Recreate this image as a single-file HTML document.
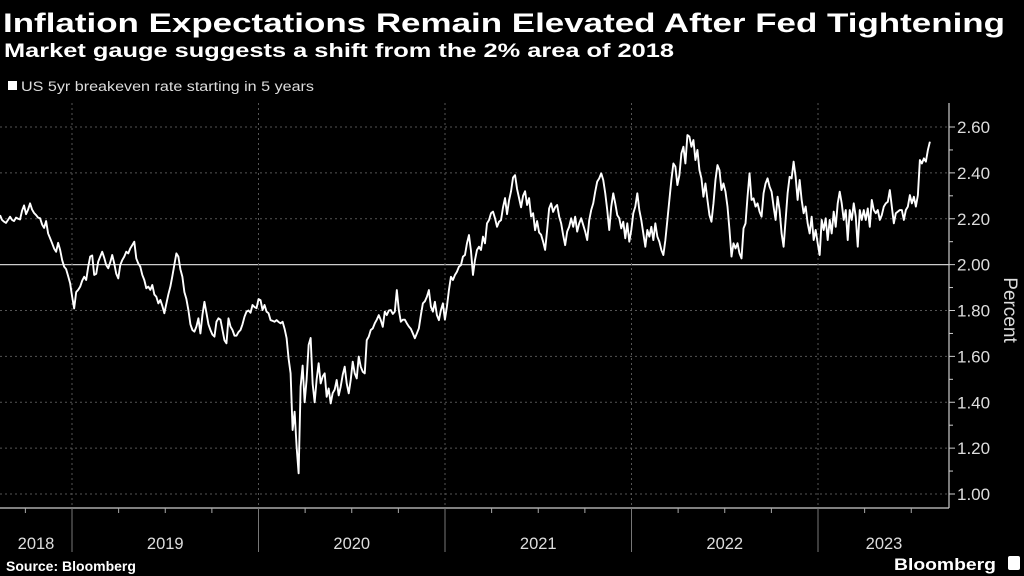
<!DOCTYPE html>
<html><head><meta charset="utf-8"><style>
html,body{margin:0;padding:0;background:#000;}
svg{display:block;}
text{font-family:"Liberation Sans",sans-serif;}
</style></head><body>
<svg id="chart" width="1024" height="576" viewBox="0 0 1024 576" xmlns="http://www.w3.org/2000/svg">
<rect x="0" y="0" width="1024" height="576" fill="#000"/>
<text x="3" y="32" font-size="27" font-weight="bold" fill="#fff" textLength="1002" lengthAdjust="spacingAndGlyphs">Inflation Expectations Remain Elevated After Fed Tightening</text>
<text x="4" y="57" font-size="19" font-weight="bold" fill="#fff" textLength="670" lengthAdjust="spacingAndGlyphs">Market gauge suggests a shift from the 2% area of 2018</text>
<rect x="8" y="81" width="9" height="9" fill="#fff"/>
<text x="21" y="91" font-size="13.5" fill="#ddd" textLength="293" lengthAdjust="spacingAndGlyphs">US 5yr breakeven rate starting in 5 years</text>
<g id="grid"></g>
<g id="axes"></g>
<path id="line" fill="none" stroke="#fff" stroke-width="1.9" stroke-linejoin="round"/>
<text transform="translate(1004,310) rotate(90)" font-size="19" fill="#ddd" text-anchor="middle">Percent</text>
<text x="6" y="571" font-size="14" font-weight="bold" fill="#fff">Source: Bloomberg</text>
<text x="894" y="570" font-size="17" font-weight="bold" fill="#fff" textLength="102" lengthAdjust="spacingAndGlyphs">Bloomberg</text>
<rect x="1008" y="556" width="12" height="14" rx="2" fill="#fff"/>
</svg>
<script>
const yTicks = [1.0, 1.2, 1.4, 1.6, 1.8, 2.0, 2.2, 2.4, 2.6];
const yTickLabels = ["1.00","1.20","1.40","1.60","1.80","2.00","2.20","2.40","2.60"];
const years = [2019, 2020, 2021, 2022, 2023];
const yearLabels = ["2018","2019","2020","2021","2022","2023"];
const startYear = 2018.614;
const endYear = 2023.600;
const values = [
2.216,2.195,2.187,2.182,2.195,2.209,2.195,2.190,2.205,2.200,2.197,2.235,2.258,2.220,2.240,2.267,2.240,2.225,2.216,2.205,
2.202,2.175,2.160,2.190,2.136,2.115,2.093,2.070,2.056,2.095,2.064,2.020,1.991,1.980,1.950,1.918,1.860,1.809,1.880,1.890,
1.904,1.930,1.947,1.933,1.990,2.035,2.040,1.955,1.960,2.013,2.035,2.056,2.030,1.998,1.984,2.010,2.042,2.005,1.960,1.940,
1.998,2.020,2.035,2.056,2.049,2.071,2.085,2.100,2.027,2.005,1.991,1.955,1.933,1.897,1.904,1.890,1.911,1.870,1.860,1.831,
1.846,1.820,1.788,1.830,1.870,1.904,1.950,2.000,2.049,2.035,1.980,1.947,1.880,1.850,1.802,1.740,1.715,1.708,1.730,1.766,
1.700,1.780,1.838,1.790,1.740,1.715,1.695,1.686,1.751,1.766,1.760,1.715,1.670,1.657,1.766,1.730,1.715,1.690,1.690,1.706,
1.715,1.740,1.773,1.795,1.800,1.790,1.824,1.815,1.810,1.850,
1.845,1.802,1.824,1.795,1.788,1.758,1.755,1.751,1.758,1.750,1.744,1.751,1.720,1.680,1.590,1.526,1.279,1.359,1.206,1.090,
1.468,1.560,1.400,1.500,1.650,1.680,1.480,1.400,1.500,1.570,1.482,1.512,1.526,1.424,1.460,1.395,1.440,1.455,1.497,1.430,
1.468,1.520,1.555,1.482,1.439,1.497,1.577,1.526,1.504,1.599,1.555,1.533,1.526,1.671,1.686,1.715,1.722,1.744,1.760,1.780,
1.758,1.729,1.795,1.780,1.800,1.802,1.785,1.795,1.889,1.802,1.751,1.760,1.760,1.744,1.730,1.720,1.700,1.679,1.700,1.722,
1.780,1.831,1.840,1.860,1.889,1.817,1.795,1.838,1.780,1.758,1.802,1.831,1.760,1.817,1.889,1.947,1.933,1.955,1.969,1.991,
1.998,2.035,2.042,2.093,
2.129,2.060,1.955,2.020,2.064,2.078,2.064,2.122,2.093,2.180,2.194,2.224,2.231,2.202,2.165,2.187,2.194,2.250,2.290,2.220,
2.280,2.320,2.380,2.390,2.330,2.290,2.250,2.300,2.320,2.260,2.290,2.210,2.224,2.150,2.190,2.140,2.130,2.100,2.064,2.150,
2.245,2.267,2.230,2.250,2.260,2.210,2.180,2.129,2.085,2.144,2.165,2.202,2.165,2.209,2.144,2.180,2.202,2.173,2.144,2.107,
2.194,2.238,2.267,2.318,2.362,2.376,2.398,2.369,2.311,2.238,2.151,2.253,2.311,2.267,2.216,2.202,2.158,2.187,2.115,2.180,
2.100,2.151,2.224,2.253,2.311,2.238,2.194,2.136,2.078,2.151,2.122,2.165,2.107,2.180,2.122,2.100,2.064,2.042,2.107,2.194,
2.282,2.369,2.441,2.427,2.347,2.390,
2.485,2.514,2.441,2.565,2.558,2.514,2.543,2.456,2.500,2.412,2.376,2.296,2.354,2.282,2.216,2.187,2.267,2.369,2.434,2.412,
2.325,2.354,2.318,2.253,2.151,2.035,2.093,2.071,2.093,2.049,2.027,2.158,2.180,2.296,2.398,2.282,2.289,2.253,2.267,2.231,
2.209,2.311,2.354,2.376,2.340,2.318,2.253,2.195,2.296,2.238,2.136,2.078,2.195,2.311,2.383,2.376,2.449,2.383,2.282,2.369,
2.282,2.224,2.253,2.180,2.136,2.209,2.107,2.151,2.093,2.042,2.195,2.151,2.202,2.107,2.195,2.136,2.231,2.165,2.267,2.318,
2.267,2.195,2.238,2.107,2.238,2.195,2.267,2.209,2.078,2.238,2.195,2.238,2.195,2.245,2.165,2.282,2.238,2.224,2.238,2.195,
2.216,2.253,2.267,2.274,2.325,2.253,2.180,2.224,2.231,2.238,2.238,2.195,2.238,2.253,2.303,2.267,2.296,2.253,2.303,2.456,
2.441,2.463,2.449,2.500,2.536
];

const NS = "http://www.w3.org/2000/svg";
const plotLeft = 0, plotRight = 949, plotTop = 103, plotBottom = 508;
function xScale(yr){ return 72 + (yr - 2019) * 186.5; }
function yScale(v){ return 494 - (v - 1.0) * (367 / 1.6); }
function mk(tag, attrs, parent){
  const el = document.createElementNS(NS, tag);
  for (const k in attrs) el.setAttribute(k, attrs[k]);
  parent.appendChild(el);
  return el;
}
const grid = document.getElementById('grid');
const axes = document.getElementById('axes');

yTicks.forEach((t, i) => {
  const y = yScale(t);
  const solid = Math.abs(t - 2.0) < 1e-9;
  const gl = mk('line', {x1: plotLeft, x2: plotRight, y1: y, y2: y, stroke: solid ? '#ccc' : '#555', 'stroke-width': solid ? 1.3 : 1, 'stroke-dasharray': solid ? '' : '2,3'}, grid);
  
  
  const tk = mk('line', {x1: plotRight, x2: plotRight + 6, y1: y, y2: y, stroke: '#ccc', 'stroke-width': 1}, axes);
  
  
  const lb = mk('text', {x: 957, y: y + 6, 'font-size': 17, fill: '#ddd'}, axes);
  lb.textContent = yTickLabels[i];
  
  
  if (i < yTicks.length - 1) {
    const ym = yScale(t + 0.1);
    const mt = mk('line', {x1: plotRight, x2: plotRight + 4, y1: ym, y2: ym, stroke: '#ccc', 'stroke-width': 1}, axes);
    
    
  }
});

const ya = mk('line', {x1: plotRight, x2: plotRight, y1: plotTop, y2: plotBottom, stroke: '#ccc', 'stroke-width': 1.2}, axes);


const xa = mk('line', {x1: 0, x2: plotRight, y1: plotBottom, y2: plotBottom, stroke: '#ccc', 'stroke-width': 1.2}, axes);



years.forEach(yr => {
  const x = xScale(yr);
  const vg = mk('line', {x1: x, x2: x, y1: plotTop, y2: plotBottom, stroke: '#555', 'stroke-width': 1, 'stroke-dasharray': '2,3'}, grid);
  
  
  const sep = mk('line', {x1: x, x2: x, y1: plotBottom, y2: 552, stroke: '#777', 'stroke-width': 1}, axes);
  
  
});
for (let yr = 2018.75; yr < endYear; yr += 0.25) {
  if (Math.abs(yr - Math.round(yr)) < 1e-6) continue;
  const x = xScale(yr);
  const qt = mk('line', {x1: x, x2: x, y1: plotBottom, y2: plotBottom + 5, stroke: '#aaa', 'stroke-width': 1}, axes);
  
  
}
const bounds = [0].concat(years.map(xScale)).concat([plotRight]);
yearLabels.forEach((lbl, i) => {
  let cx = (bounds[i] + bounds[i + 1]) / 2;
  if (i === yearLabels.length - 1) cx = xScale(2023) + 66;
  const t = mk('text', {x: cx, y: 549, 'font-size': 16.5, fill: '#ddd', 'text-anchor': 'middle'}, axes);
  t.textContent = lbl;
  
  
});

const n = values.length;
let d = '';
values.forEach((v, i) => {
  const yr = startYear + (endYear - startYear) * i / (n - 1);
  d += (i ? 'L' : 'M') + xScale(yr).toFixed(2) + ',' + yScale(v).toFixed(2);
});
document.getElementById('line').setAttribute('d', d);
</script>
</body></html>
